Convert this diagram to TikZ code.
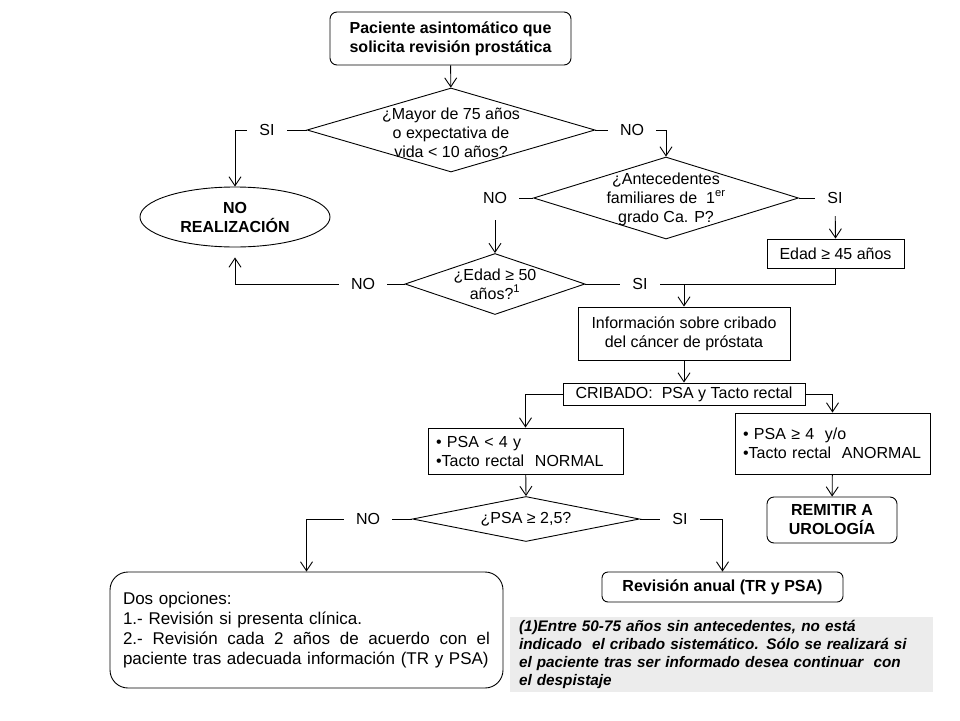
\documentclass[tikz,border=0pt]{standalone}
\usepackage{fontspec}
\setmainfont{Liberation Sans}
\usetikzlibrary{shapes.geometric,arrows.meta}

\begin{document}
\begin{tikzpicture}[x=1pt, y=-1pt, line width=0.9pt,
  every node/.style={font=\fontsize{16}{19}\selectfont},
  bold/.style={font=\fontsize{16}{19}\selectfont\bfseries},
  box/.style={draw, inner sep=0pt, align=center},
  rbox/.style={box, rounded corners=7pt, bold},
  rhomb/.style={draw, diamond, inner sep=0pt},
  answer/.style={inner xsep=12pt, inner ysep=6pt},
  arr/.style={-{Straight Barb[length=9pt,width=12pt]}}]

\useasboundingbox (0,0) rectangle (960,720);

% start and first question
\node[rbox, minimum width=241pt, minimum height=53pt] (start) at (450.5,38.5) {Paciente asintomático que\\solicita revisión prostática};
\node[rhomb, minimum width=288pt, minimum height=84pt] (mayor) at (451,130) {};
\node[align=center] (mayortxt) at (451,133) {¿Mayor de 75 años\\o expectativa de\\vida < 10 años?};
\node[answer] (si1) at (267,130) {SI};
\node[answer] (no1) at (632,130) {NO};

\node[draw, ellipse, minimum width=190pt, minimum height=60pt, inner sep=0pt, align=center, bold] (noreal) at (235,217) {NO\\REALIZACIÓN};

% family history
\node[rhomb, minimum width=265pt, minimum height=82pt] (antec) at (666,198) {};
\node[align=center] (antectxt) at (666,199) {¿Antecedentes\\familiares de\ \ 1\textsuperscript{er}\\grado Ca. P?};
\node[answer] (no2) at (495,198) {NO};
\node[answer] (si2) at (835,198) {SI};
\node[box, minimum width=137pt, minimum height=29pt] (edad45) at (835.5,253.5) {Edad ≥ 45 años};

% age question
\node[rhomb, minimum width=180pt, minimum height=61pt] (edad50) at (495,284) {};
\node[align=center] (edad50txt) at (495,284) {¿Edad ≥ 50\\años?\textsuperscript{1}};
\node[answer] (no3) at (363,284) {NO};
\node[answer] (si3) at (640,284) {SI};

% screening
\node[box, minimum width=212pt, minimum height=53pt] (info) at (684,333.5) {Información sobre cribado\\del cáncer de próstata};
\node[box, minimum width=242pt, minimum height=22pt] (crib) at (684,394) {CRIBADO:\ \ PSA y Tacto rectal};
\node[box, minimum width=195pt, minimum height=46pt, text width=179pt, align=left] (psalo) at (525.5,451) {• PSA < 4 y\\•Tacto rectal\ \ NORMAL};
\node[box, minimum width=195pt, minimum height=61pt, text width=179pt, align=left] (psahi) at (832.5,443.5) {• PSA ≥ 4\ \ y/o\\•Tacto rectal\ \ ANORMAL};
\node[rbox, minimum width=130pt, minimum height=46pt] (remit) at (832,520) {REMITIR A\\UROLOGÍA};

\node[rhomb, minimum width=227pt, minimum height=45pt] (psa25) at (526,519) {};
\node (psa25txt) at (526,519) {¿PSA ≥ 2,5?};
\node[answer] (no4) at (368,519) {NO};
\node[answer] (si4) at (680,519) {SI};

\node[rbox, rounded corners=6pt, minimum width=241pt, minimum height=30pt] (anual) at (722.5,587) {Revisión anual (TR y PSA)};
\node[draw, rounded corners=18pt, inner sep=0pt, minimum width=393pt, minimum height=116pt, text width=367pt, align=left,
  font=\fontsize{17}{20}\selectfont] (dos) at (306.5,630) {Dos opciones:\\1.- Revisión si presenta clínica.\\\leavevmode\hbox to 367pt{2.-\hfill Revisión\hfill cada\hfill 2\hfill años\hfill de\hfill acuerdo\hfill con\hfill el}\\paciente tras adecuada información (TR y PSA)};

\node[fill=gray!15, inner sep=0pt, minimum width=423pt, minimum height=75pt, text width=405pt, align=left,
  font=\fontsize{15.3}{17.7}\selectfont\bfseries\itshape] (nota) at (721.5,654.5) {(1)Entre 50-75 años sin antecedentes, no está\\indicado\ \ el cribado sistemático. Sólo se realizará si\\el paciente tras ser informado desea continuar\ \ con\\el despistaje};

% connectors
\draw[arr] (start) -- (mayor);
\draw (mayor.west) -- (si1);
\draw[arr] (si1.west) -| (noreal.north);
\draw (mayor.east) -- (no1);
\draw[arr] (no1.east) -| (antec.north);

\draw (antec.west) -- (no2);
\draw[arr, shorten <=10pt] (no2) -- (edad50.north);
\draw (antec.east) -- (si2);
\draw[arr, shorten <=6pt] (si2) -- (edad45.north);

\draw (edad50.west) -- (no3);
\draw[arr, shorten >=10pt] (no3.west) -| (noreal.south);
\draw (edad50.east) -- (si3);
\draw (si3.east) -- (info.north |- si3.east);
\draw[arr] (edad45.south) |- (info.north |- si3.east) -- (info.north);

\draw[arr] (info) -- (crib);
\draw[arr] (crib.west) -| (psalo.north);
\draw[arr] (crib.east) -| (psahi.north);
\draw[arr] (psahi) -- (remit);
\draw[arr] (psalo) -- (psa25.north);

\draw (psa25.west) -- (no4);
\draw[arr] (no4.west) -| (dos.north);
\draw (psa25.east) -- (si4);
\draw[arr] (si4.east) -| (anual.north);

\end{tikzpicture}
\end{document}
